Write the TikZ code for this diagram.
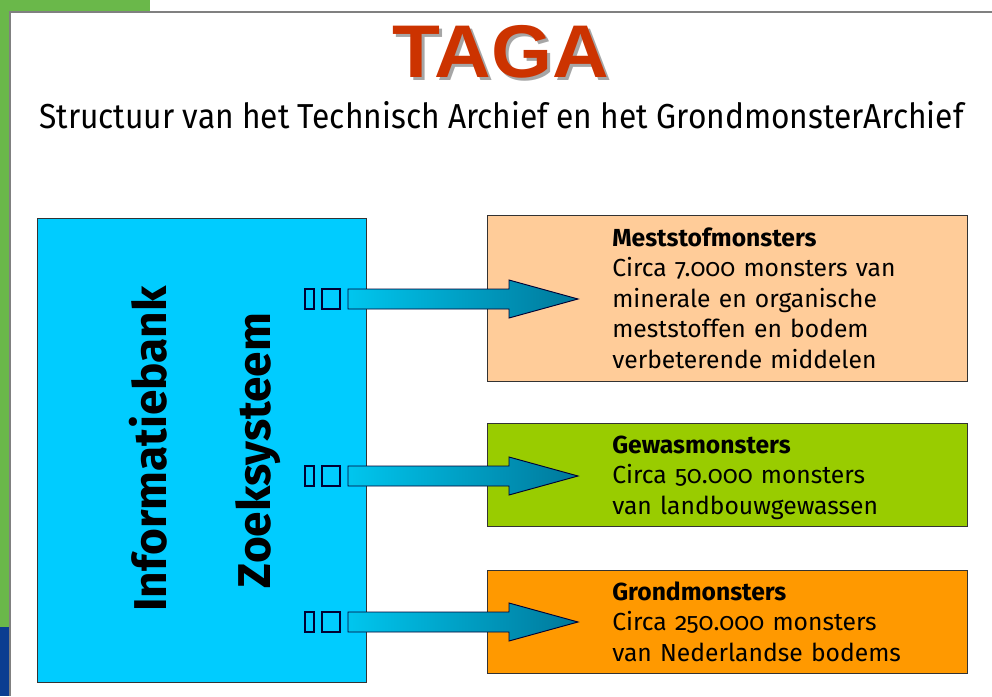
\documentclass[tikz,border=0pt]{standalone}
\usepackage{fontspec}
\setmainfont{Fira Sans}[Numbers=OldStyle]
\newfontfamily\tagafont{Liberation Sans}
\usepackage{xcolor}
\usetikzlibrary{calc}

\definecolor{stripgreen}{HTML}{6AB84A}
\definecolor{stripblue}{HTML}{0B3D91}
\definecolor{tagared}{HTML}{CC3300}
\definecolor{bankblue}{HTML}{00CCFF}
\definecolor{peach}{HTML}{FFCC99}
\definecolor{leafgreen}{HTML}{99CC00}
\definecolor{soilorange}{HTML}{FF9900}
\definecolor{arrowlight}{HTML}{00C6EE}
\definecolor{arrowdark}{HTML}{00789A}

\newcommand{\tagaword}{\scalebox{1.05}[1]{TAGA}}

\begin{document}
\begin{tikzpicture}[x=0.75pt, y=-0.75pt,
  box/.style={draw=black!80, line width=0.8pt, anchor=north west, inner sep=0pt, minimum width=360pt},
  boxtext/.style={anchor=base west, inner sep=0pt, text width=310pt, align=left, font=\fontsize{18.5}{22.9}\selectfont},
  sidelabel/.style={anchor=base, rotate=90, inner sep=0pt, font=\fontsize{34.5}{40}\selectfont\bfseries},
  tagatext/.style={anchor=base, inner sep=0pt, font=\fontsize{56}{64}\selectfont\tagafont\bfseries}]
\useasboundingbox (0,0) rectangle (992,696);
\fill[white] (0,0) rectangle (992,696);

\fill[stripgreen] (0,0) rectangle (150,12);
\fill[stripgreen] (0,0) rectangle (10,627);
\fill[stripblue] (0,627) rectangle (10,696);
\draw[gray, line width=1.5pt] (10,696) -- (10,12) -- (992,12);

\node (title) at (501,77) [tagatext] {\makebox[0pt][l]{\hspace{2.25pt}\raisebox{-2.25pt}{\textcolor{black!35}{\tagaword}}}\textcolor{tagared}{\tagaword}};
\node (subtitle) at (501.5,128) [anchor=base, inner sep=0pt, font=\fontsize{26}{30}\selectfont] {\scalebox{0.915}[1]{Structuur van het Technisch Archief en het GrondmonsterArchief}};

\node (bank) at (37,218) [box, fill=bankblue, minimum width=246.75pt, minimum height=348pt] {};
\node (info) at (166,449) [sidelabel] {Informatiebank};
\node (zoek) at (270,450.5) [sidelabel] {Zoeksysteem};

\node (mest) at (487,215) [box, fill=peach, minimum height=124.5pt] {};
\node (gewas) at (487,423) [box, fill=leafgreen, minimum height=77.25pt] {};
\node (grond) at (487,570) [box, fill=soilorange, minimum height=77.25pt] {};

\node (mesttxt) at ($(mest.north west)+(125,31)$) [boxtext] {\textbf{Meststofmonsters}\\Circa 7.000 monsters van\\minerale en organische\\meststoffen en bodem\\verbeterende middelen};
\node (gewastxt) at ($(gewas.north west)+(125,30)$) [boxtext] {\textbf{Gewasmonsters}\\Circa 50.000 monsters\\van landbouwgewassen};
\node (grondtxt) at ($(grond.north west)+(125,30)$) [boxtext] {\textbf{Grondmonsters}\\Circa 250.000 monsters\\van Nederlandse bodems};

\foreach \row/\y in {1/299, 2/476, 3/622} {
  \coordinate (tail\row) at (348,\y);
  \draw[black!80!blue, line width=0.8pt] ($(tail\row)+(-43,-10)$) rectangle ++(9,20);
  \draw[black!80!blue, line width=0.8pt] ($(tail\row)+(-26,-10)$) rectangle ++(18,20);
  \draw[black!80!blue, line width=0.7pt, left color=arrowlight, right color=arrowdark]
    (tail\row) ++(0,-10) -- ++(161,0) -- ++(0,-9) -- ++(69,19) -- ++(-69,19) -- ++(0,-9) -- ++(-161,0) -- cycle;
}
\end{tikzpicture}
\end{document}
